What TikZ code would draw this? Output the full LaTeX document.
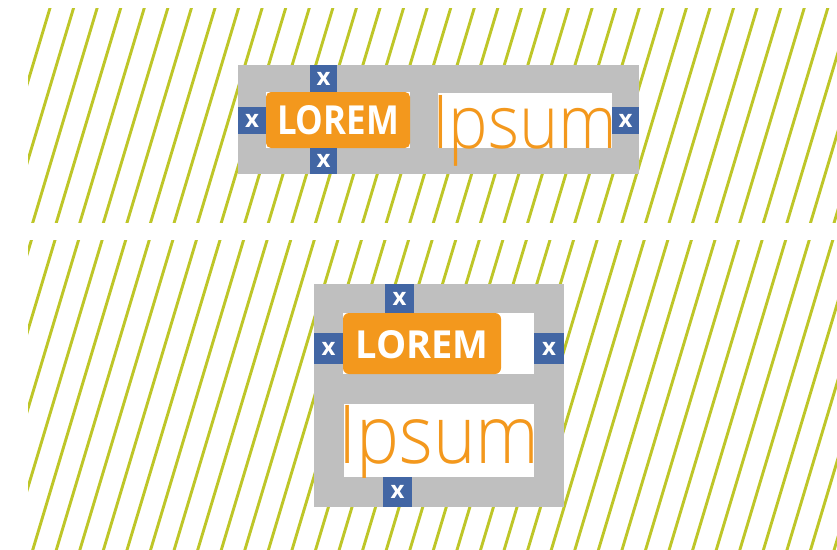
\documentclass[tikz,border=0pt]{standalone}
\usepackage{fontspec}
\setmainfont{Open Sans}
\newfontfamily\lightfont{Open Sans Light}
\usepackage{graphicx}
\definecolor{stripecol}{RGB}{190,198,40}
\definecolor{boxgray}{RGB}{191,191,191}
\definecolor{xblue}{RGB}{66,102,164}
\definecolor{lorange}{RGB}{243,152,29}
\tikzset{
  stripeline/.style={draw=stripecol, line width=2.9pt},
  graybox/.style={fill=boxgray, draw=none, inner sep=0pt, outer sep=0pt, anchor=north west},
  whitebox/.style={fill=white, draw=none, inner sep=0pt, outer sep=0pt, anchor=north west},
  orangebox/.style={fill=lorange, draw=none, inner sep=0pt, outer sep=0pt, anchor=north west, rounded corners=5pt},
  xbox/.style={fill=xblue, draw=none, text=white, inner sep=0pt, outer sep=0pt, anchor=north west,
    font=\bfseries\fontsize{24}{24}\selectfont},
  loremtext/.style={text=white, inner sep=0pt, outer sep=0pt, anchor=base west},
  ipsumtext/.style={text=lorange, inner sep=0pt, outer sep=0pt, anchor=base west},
}
\begin{document}
\begin{tikzpicture}[x=1pt,y=-1pt]
\useasboundingbox (0,0) rectangle (837,549);
\fill[white] (0,0) rectangle (837,549);
% hatched bands
\begin{scope}
  \clip (28,8) rectangle (837,222);
  \foreach \i in {-2,...,40}
    \draw[stripeline] ({52.4+23.57*\i},0) -- ({-16.6+23.57*\i},230);
\end{scope}
\begin{scope}
  \clip (28,240) rectangle (837,549);
  \foreach \i in {-2,...,42}
    \draw[stripeline] ({57.4+23.57*\i},232) -- ({-40.1+23.57*\i},557);
\end{scope}
% top diagram
\node[graybox, minimum width=401pt, minimum height=109pt] (g1) at (238,65) {};
\node[whitebox, minimum width=144pt, minimum height=56pt] (lw1) at (266,92) {};
\node[orangebox, minimum width=144pt, minimum height=56pt] (lo1) at (266,92) {};
\node[whitebox, minimum width=174pt, minimum height=55pt] (iw1) at (438,93) {};
\node[loremtext] (lt1) at (277,134) {\resizebox{122pt}{29pt}{\bfseries LOREM}};
\node[ipsumtext] (it1) at (432,148) {\resizebox{185pt}{53pt}{\raisebox{0pt}[\height][0pt]{\lightfont Ipsum}}};
\node[xbox, minimum width=27pt, minimum height=27pt] (t1) at (310,65) {x};
\node[xbox, minimum width=27pt, minimum height=26pt] (b1) at (310,148) {x};
\node[xbox, minimum width=28pt, minimum height=27pt] (l1) at (238,107) {x};
\node[xbox, minimum width=27pt, minimum height=27pt] (r1) at (612,107) {x};
% bottom diagram
\node[graybox, minimum width=250pt, minimum height=223pt] (g2) at (314,284) {};
\node[whitebox, minimum width=191pt, minimum height=61pt] (lw2) at (343,313) {};
\node[orangebox, rounded corners=6pt, minimum width=158pt, minimum height=61pt] (lo2) at (343,313) {};
\node[whitebox, minimum width=190pt, minimum height=73pt] (iw2) at (344,404) {};
\node[loremtext] (lt2) at (355.5,358) {\resizebox{133pt}{28pt}{\bfseries LOREM}};
\begin{scope}
  \clip (344,404) rectangle (534,477);
  \node[ipsumtext] (it2) at (338.5,463) {\resizebox{201pt}{58pt}{\raisebox{0pt}[\height][0pt]{\lightfont Ipsum}}};
\end{scope}
\node[xbox, minimum width=29pt, minimum height=29pt] (t2) at (385,284) {x};
\node[xbox, minimum width=29pt, minimum height=31pt] (l2) at (314,333) {x};
\node[xbox, minimum width=30pt, minimum height=31pt] (r2) at (534,333) {x};
\node[xbox, minimum width=29pt, minimum height=30pt] (b2) at (383,477) {x};
\end{tikzpicture}
\end{document}
